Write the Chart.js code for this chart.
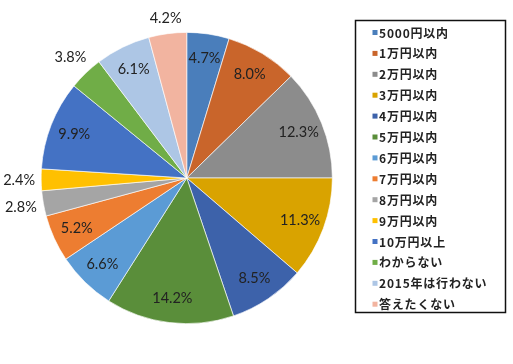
<!DOCTYPE html>
<html>
<head>
<meta charset="utf-8">
<script src="https://cdn.jsdelivr.net/npm/chart.js@4/dist/chart.umd.min.js"></script>
<style>
html,body{margin:0;padding:0;background:#fff;}
#wrap{width:513px;height:364px;position:relative;}
</style>
</head>
<body>
<div id="wrap"><canvas id="c" width="513" height="364"></canvas></div>
<script>
const categories = ["5000円以内","1万円以内","2万円以内","3万円以内","4万円以内","5万円以内","6万円以内","7万円以内","8万円以内","9万円以内","10万円以上","わからない","2015年は行わない","答えたくない"];
const values = [4.7, 8.0, 12.3, 11.3, 8.5, 14.2, 6.6, 5.2, 2.8, 2.4, 9.9, 3.8, 6.1, 4.2];
const colors = ["#4A7EBB","#C9652B","#8C8C8C","#D9A300","#3D62AA","#5A8E3A","#5B9BD5","#ED7D31","#A5A5A5","#FFC000","#4472C4","#70AD47","#ADC6E5","#F2B4A0"];

const labelPlugin = {
  id: 'pieLabels',
  afterDatasetsDraw(chart) {
    const ctx = chart.ctx;
    const meta = chart.getDatasetMeta(0);
    ctx.save();
    ctx.font = '14.5px Lato';
    ctx.fillStyle = '#222';
    ctx.textAlign = 'center';
    ctx.textBaseline = 'middle';
    meta.data.forEach((arc, i) => {
      const p = arc.getProps(['x','y','startAngle','endAngle','outerRadius'], true);
      const mid = (p.startAngle + p.endAngle) / 2;
      const v = values[i];
      const txt = v.toFixed(1) + '%';
      let r;
      if (v < 4.5) {
        const hw = ctx.measureText(txt).width / 2, hh = 7;
        r = p.outerRadius + 6 + Math.abs(Math.cos(mid)) * hw + Math.abs(Math.sin(mid)) * hh;
      } else {
        r = p.outerRadius * 0.83;
      }
      const x = p.x + Math.cos(mid) * r;
      const y = p.y + Math.sin(mid) * r;
      ctx.fillText(txt, x, y);
    });
    ctx.restore();
  }
};

const legendPlugin = {
  id: 'boxLegend',
  afterDraw(chart) {
    const ctx = chart.ctx;
    ctx.save();
    ctx.strokeStyle = '#111';
    ctx.lineWidth = 1.5;
    ctx.strokeRect(355.5, 20.5, 150, 292);
    ctx.font = 'bold 12px "Noto Sans CJK JP"';
    if ('letterSpacing' in ctx) ctx.letterSpacing = '0.8px';
    ctx.textBaseline = 'middle';
    ctx.textAlign = 'left';
    const items = chart.options.plugins.legend.labels.generateLabels(chart);
    items.forEach((it, i) => {
      const y = 32.5 + i * 20.9;
      ctx.fillStyle = it.fillStyle;
      ctx.fillRect(372.5, y - 2.5, 5, 5);
      ctx.fillStyle = '#222';
      ctx.fillText(it.text, 379, y + 0.5);
    });
    ctx.restore();
  }
};

new Chart(document.getElementById('c'), {
  type: 'pie',
  data: {
    labels: categories,
    datasets: [{
      data: values,
      backgroundColor: colors,
      borderColor: 'rgba(255,255,255,0.8)',
      borderWidth: 0.8
    }]
  },
  options: {
    responsive: false,
    animation: false,
    layout: { padding: { left: 40.5, right: 180, top: 32, bottom: 40 } },
    plugins: {
      legend: { display: false },
      tooltip: { enabled: false }
    }
  },
  plugins: [labelPlugin, legendPlugin]
});
</script>
</body>
</html>
